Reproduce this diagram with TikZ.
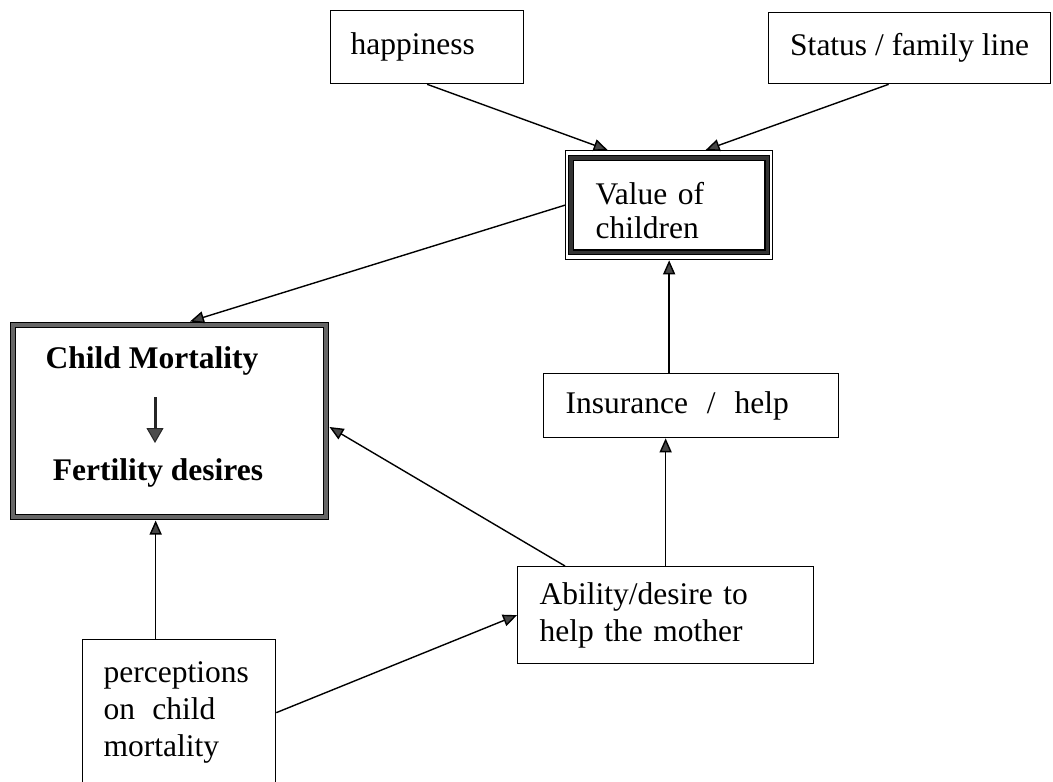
\documentclass[tikz,border=0pt]{standalone}
\usepackage{fontspec}
\setmainfont{Liberation Serif}
\usetikzlibrary{arrows.meta}
\begin{document}
\begin{tikzpicture}[x=1pt,y=-1pt,
  txt/.style={font=\fontsize{31.5}{37}\selectfont},
  box/.style={txt, draw=black, line width=1.3pt, anchor=north west, align=left, inner ysep=0pt},
  bold/.style={txt, font=\fontsize{31.5}{37}\selectfont\bfseries, anchor=base, inner sep=0pt},
  band/.style={draw=black, line width=1.2pt, double=gray!80!black, double distance=4.5pt},
  arr/.style={line width=1.4pt, -{Triangle[length=14pt,width=12pt,fill=gray!55!black]}},
  smallarr/.style={line width=3pt, draw=black!85, -{Triangle[length=15pt,width=17pt,fill=gray!60!black,line width=1pt]}}
]
\useasboundingbox (0,0) rectangle (1053,782);
\clip (0,0) rectangle (1053,782);

% boxes
\node[box, text width=153pt, inner xsep=20pt, minimum height=73pt] (happy) at (330,10) {happiness};
\node[box, inner xsep=0pt, minimum width=282pt, minimum height=71pt] (status) at (768,12) {Status / family line};
\node[box, text width=147pt, inner xsep=30pt, minimum height=109pt, font=\fontsize{31.5}{34}\selectfont] (value) at (565,150) {\rule{0pt}{33pt}Value of\\children};
\draw[draw=black, line width=1.2pt, double=gray!40!black, double distance=3.5pt]
  ([shift={(6,8)}]value.north west) rectangle ([shift={(-6,-8)}]value.south east);
\node[box, text width=251pt, inner xsep=22pt, minimum height=64pt] (ins) at (543,373) {Insurance\hspace{0.6em}/\hspace{0.6em}help};
\node[box, text width=252pt, inner xsep=22pt, minimum height=97pt] (ability) at (517,566) {Ability/desire to\\help the mother};
\node[box, text width=151pt, inner xsep=21pt, minimum height=146pt] (perc) at (82,639) {perceptions\\on\hspace{0.55em}child\\mortality};

% child mortality box
\node[band, minimum width=313pt, minimum height=192pt, anchor=center, outer sep=3.5pt] (cm) at (169.5,421) {};
\node[bold] (cmt) at (152,368) {Child Mortality};
\node[bold] (fdt) at (158,480) {Fertility desires};
\coordinate (sa1) at (155,397);
\coordinate (sa2) at (155,443);
\draw[smallarr] (sa1) -- (sa2);

% connectors
\draw[arr] (happy.south) -- ([xshift=-61.5pt]value.north);
\draw[arr] ([xshift=-21pt]status.south) -- ([xshift=36.5pt]value.north);
\draw[arr] (value.west) -- ([xshift=20.5pt]cm.north);
\draw[arr] ([xshift=48pt]ability.north west) -- ([yshift=-6pt]cm.east);
\coordinate (p1) at ([xshift=-23.5pt]perc.north);
\draw[arr] (p1) -- (p1 |- cm.south);
\draw[arr] (perc.east) -- (ability.west);
\draw[arr] (ability.north) -- (ability.north |- ins.south);
\draw[arr] (value.south |- ins.north) -- (value.south);
\end{tikzpicture}
\end{document}
